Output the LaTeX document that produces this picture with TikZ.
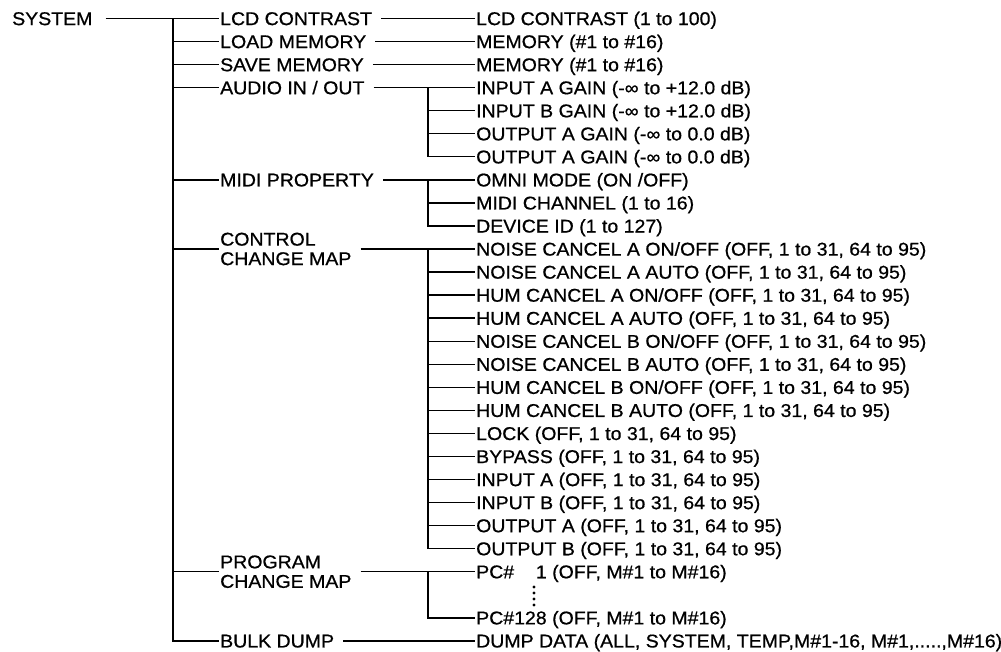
\documentclass[tikz,border=0pt]{standalone}
\usepackage{fontspec}
\setmainfont{Liberation Sans}[FakeStretch=1.055, FakeBold=0.7]
\begin{document}
\begin{tikzpicture}[x=1pt,y=-1pt,
  lbl/.style={anchor=west, inner sep=0pt, font=\fontsize{18.5}{19.5}\selectfont, text height=13.2pt, text depth=0pt},
  lblm/.style={anchor=west, inner sep=0pt, font=\fontsize{18.5}{19.5}\selectfont, align=left},
  conn/.style={line width=1.4pt},
  from/.style={conn, shorten <=9pt, shorten >=1.5pt},
  br/.style={conn, shorten >=1.5pt}]
\useasboundingbox (0,0) rectangle (1001,652);
% level 0
\node[lbl] (sys) at (12,{18.5}) {SYSTEM};
% level 1
\node[lbl] (lcd)   at (220,{18.5+23.05*0}) {LCD CONTRAST};
\node[lbl] (load)  at (220,{18.5+23.05*1}) {LOAD MEMORY};
\node[lbl] (save)  at (220,{18.5+23.05*2}) {SAVE MEMORY};
\node[lbl] (audio) at (220,{18.5+23.05*3}) {AUDIO IN / OUT};
\node[lbl] (midi)  at (220,{18.5+23.05*7}) {MIDI PROPERTY};
\node[lblm] (ccm)  at (220,{18.5+23.05*10}) {CONTROL\\CHANGE MAP};
\node[lblm] (pcm)  at (220,{18.5+23.05*24}) {PROGRAM\\CHANGE MAP};
\node[lbl] (bulk)  at (220,{18.5+23.05*27}) {BULK DUMP};
% level 2
\node[lbl] (lcdv)  at (476,{18.5+23.05*0}) {LCD CONTRAST (1 to 100)};
\node[lbl] (memL)  at (476,{18.5+23.05*1}) {MEMORY (\#1 to \#16)};
\node[lbl] (memS)  at (476,{18.5+23.05*2}) {MEMORY (\#1 to \#16)};
\node[lbl] (ia)    at (476,{18.5+23.05*3}) {INPUT A GAIN (-∞ to +12.0 dB)};
\node[lbl] (ib)    at (476,{18.5+23.05*4}) {INPUT B GAIN (-∞ to +12.0 dB)};
\node[lbl] (oa1)   at (476,{18.5+23.05*5}) {OUTPUT A GAIN (-∞ to 0.0 dB)};
\node[lbl] (oa2)   at (476,{18.5+23.05*6}) {OUTPUT A GAIN (-∞ to 0.0 dB)};
\node[lbl] (omni)  at (476,{18.5+23.05*7}) {OMNI MODE (ON /OFF)};
\node[lbl] (mch)   at (476,{18.5+23.05*8}) {MIDI CHANNEL (1 to 16)};
\node[lbl] (dev)   at (476,{18.5+23.05*9}) {DEVICE ID (1 to 127)};
\node[lbl] (c1)  at (476,{18.5+23.05*10}) {NOISE CANCEL A ON/OFF (OFF, 1 to 31, 64 to 95)};
\node[lbl] (c2)  at (476,{18.5+23.05*11}) {NOISE CANCEL A AUTO (OFF, 1 to 31, 64 to 95)};
\node[lbl] (c3)  at (476,{18.5+23.05*12}) {HUM CANCEL A ON/OFF (OFF, 1 to 31, 64 to 95)};
\node[lbl] (c4)  at (476,{18.5+23.05*13}) {HUM CANCEL A AUTO (OFF, 1 to 31, 64 to 95)};
\node[lbl] (c5)  at (476,{18.5+23.05*14}) {NOISE CANCEL B ON/OFF (OFF, 1 to 31, 64 to 95)};
\node[lbl] (c6)  at (476,{18.5+23.05*15}) {NOISE CANCEL B AUTO (OFF, 1 to 31, 64 to 95)};
\node[lbl] (c7)  at (476,{18.5+23.05*16}) {HUM CANCEL B ON/OFF (OFF, 1 to 31, 64 to 95)};
\node[lbl] (c8)  at (476,{18.5+23.05*17}) {HUM CANCEL B AUTO (OFF, 1 to 31, 64 to 95)};
\node[lbl] (c9)  at (476,{18.5+23.05*18}) {LOCK (OFF, 1 to 31, 64 to 95)};
\node[lbl] (c10) at (476,{18.5+23.05*19}) {BYPASS (OFF, 1 to 31, 64 to 95)};
\node[lbl] (c11) at (476,{18.5+23.05*20}) {INPUT A (OFF, 1 to 31, 64 to 95)};
\node[lbl] (c12) at (476,{18.5+23.05*21}) {INPUT B (OFF, 1 to 31, 64 to 95)};
\node[lbl] (c13) at (476,{18.5+23.05*22}) {OUTPUT A (OFF, 1 to 31, 64 to 95)};
\node[lbl] (c14) at (476,{18.5+23.05*23}) {OUTPUT B (OFF, 1 to 31, 64 to 95)};
\node[lbl] (pc1)   at (476,{18.5+23.05*24}) {PC\#\phantom{12}1 (OFF, M\#1 to M\#16)};
\node[lbl] (pc128) at (476,{18.5+23.05*26}) {PC\#128 (OFF, M\#1 to M\#16)};
\node[lbl] (dump)  at (476,{18.5+23.05*27}) {DUMP DATA (ALL, SYSTEM, TEMP,M\#1-16, M\#1,.....,M\#16)};
% trunks
\coordinate (T1) at (173,{18.5});
\coordinate (Ta) at (428,{18.5+23.05*3});
\coordinate (Tm) at (428,{18.5+23.05*7});
\coordinate (Tc) at (428,{18.5+23.05*10});
\coordinate (Tp) at (428,{18.5+23.05*24});
% level 0 -> level 1
\draw[conn, shorten <=13pt, shorten >=1.5pt] (sys.east) -- (lcd.west);
\draw[br] (T1) |- (bulk.west);
\foreach \n in {load,save,audio,midi,ccm,pcm}
  \draw[br] (T1 |- \n.west) -- (\n.west);
% level 1 -> level 2
\draw[from] (lcd.east) -- (lcdv.west);
\draw[from] (load.east) -- (memL.west);
\draw[from] (save.east) -- (memS.west);
\draw[from] (audio.east) -- (ia.west);
\draw[from] (midi.east) -- (omni.west);
\draw[from] (ccm.east) -- (c1.west);
\draw[from] (pcm.east) -- (pc1.west);
\draw[from] (bulk.east) -- (dump.west);
% sub trunks
\draw[br] (Ta) |- (oa2.west);
\foreach \n in {ib,oa1} \draw[br] (Ta |- \n.west) -- (\n.west);
\draw[br] (Tm) |- (dev.west);
\foreach \n in {mch} \draw[br] (Tm |- \n.west) -- (\n.west);
\draw[br] (Tc) |- (c14.west);
\foreach \n in {c2,c3,c4,c5,c6,c7,c8,c9,c10,c11,c12,c13} \draw[br] (Tc |- \n.west) -- (\n.west);
\draw[br] (Tp) |- (pc128.west);
% vertical ellipsis
\foreach \yy in {587,593,599,605} \fill (534,\yy) circle (1.6);
\end{tikzpicture}
\end{document}
